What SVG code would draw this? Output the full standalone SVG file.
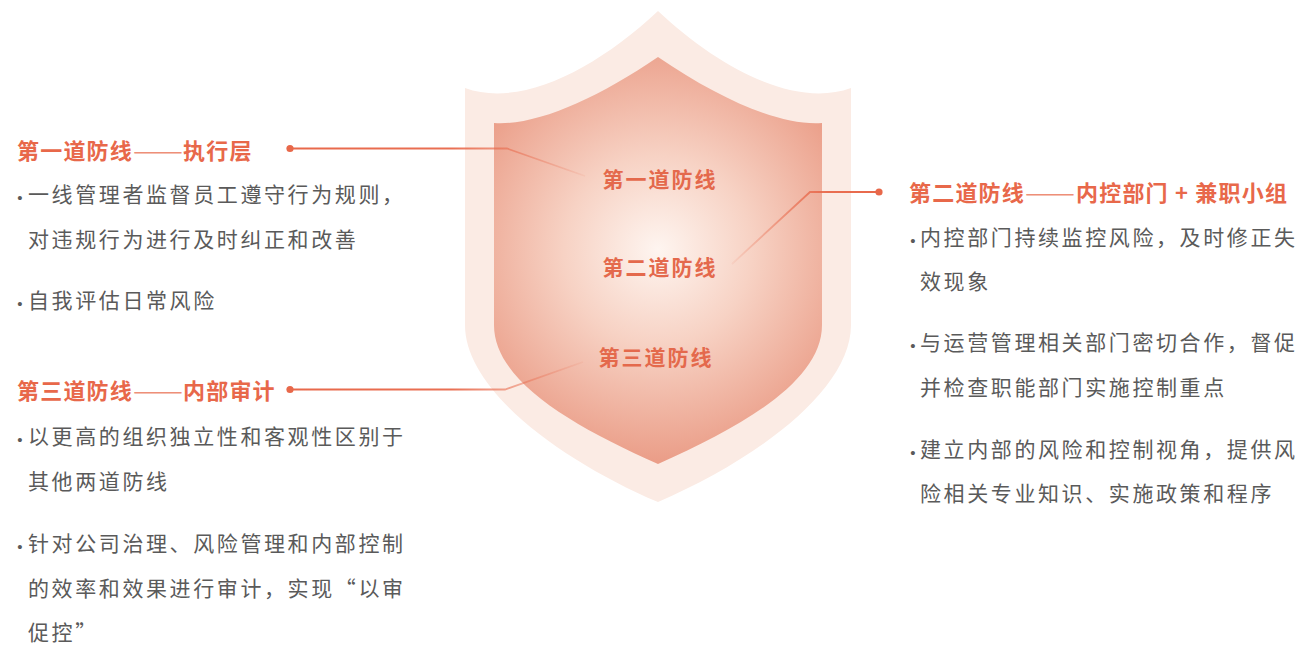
<svg xmlns="http://www.w3.org/2000/svg" width="1307" height="646" viewBox="0 0 1307 646">
<defs>
<radialGradient id="shieldFill" gradientUnits="userSpaceOnUse" cx="658" cy="250" r="235">
<stop offset="0" stop-color="#FEF5F0"/>
<stop offset="0.4" stop-color="#F7D2C4"/>
<stop offset="1" stop-color="#E8937C"/>
</radialGradient>
<linearGradient id="c1" gradientUnits="userSpaceOnUse" x1="290" y1="0" x2="585" y2="0">
<stop offset="0" stop-color="#E8684A" stop-opacity="1"/>
<stop offset="0.55" stop-color="#E8684A" stop-opacity="0.95"/>
<stop offset="1" stop-color="#E8684A" stop-opacity="0.08"/>
</linearGradient>
<linearGradient id="c2" gradientUnits="userSpaceOnUse" x1="879" y1="0" x2="732" y2="0">
<stop offset="0" stop-color="#E8684A" stop-opacity="1"/>
<stop offset="0.35" stop-color="#E8684A" stop-opacity="0.95"/>
<stop offset="1" stop-color="#E8684A" stop-opacity="0.08"/>
</linearGradient>
<linearGradient id="c3" gradientUnits="userSpaceOnUse" x1="290" y1="0" x2="583" y2="0">
<stop offset="0" stop-color="#E8684A" stop-opacity="1"/>
<stop offset="0.55" stop-color="#E8684A" stop-opacity="0.95"/>
<stop offset="1" stop-color="#E8684A" stop-opacity="0.08"/>
</linearGradient>
</defs>
<style>
text { font-family: "Noto Sans CJK SC", "Noto Sans", sans-serif; dominant-baseline: central; }
.title { font-size: 22px; font-weight: bold; fill: #E8684A; letter-spacing: 1.2px; }
.dash { font-weight: normal; fill: #EE8F78; letter-spacing: 0; }
.body { font-size: 21px; fill: #5A5A5A; letter-spacing: 2.6px; }
.bul { font-family: "Liberation Sans", sans-serif; font-size: 15px; fill: #5A5A5A; text-anchor: middle; }
.lbl { font-size: 21px; font-weight: bold; fill: #E4694C; letter-spacing: 2px; text-anchor: middle; }
.conn { fill: none; stroke-width: 1.8; }
.dot { fill: #E8684A; }
</style>

<g id="shield">
<path d="M465,88 C520,108 595,70 658,11 C721,70 796,108 851,88 L851,325 C851,390 756,460 658,502 C560,460 465,390 465,325 Z" fill="#FBEBE4"/>
<path d="M494,123 C535,126 595,100 658,57 C721,100 781,126 822,123 L822,325 C822,380 746,425 658,464 C570,425 494,380 494,325 Z" fill="url(#shieldFill)"/>
</g>

<g id="shield-labels">
<g id="label-1"><text class="lbl" x="660" y="178">第一道防线</text></g>
<g id="label-2"><text class="lbl" x="660" y="266">第二道防线</text></g>
<g id="label-3"><text class="lbl" x="656" y="356">第三道防线</text></g>
</g>

<g id="connectors">
<path class="conn" stroke="url(#c1)" d="M290,148.5 L507,148.5 L585,176"/>
<circle class="dot" cx="290" cy="148.5" r="3.6"/>
<path class="conn" stroke="url(#c2)" d="M879,192 L810,192 L732,264"/>
<circle class="dot" cx="879" cy="192" r="3.6"/>
<path class="conn" stroke="url(#c3)" d="M290,389.5 L505,389.5 L583,362"/>
<circle class="dot" cx="290" cy="389.5" r="3.6"/>
</g>

<g id="first-line">
<text class="title" x="17" y="149">第一道防线<tspan class="dash" x="133" textLength="50" lengthAdjust="spacingAndGlyphs">——</tspan><tspan x="183">执行层</tspan></text>
<text class="bul" x="20" y="197">•</text>
<text class="body" x="28" y="193">一线管理者监督员工遵守行为规则，</text>
<text class="body" x="28" y="238">对违规行为进行及时纠正和改善</text>
<text class="bul" x="20" y="303">•</text>
<text class="body" x="28" y="299">自我评估日常风险</text>
</g>

<g id="second-line">
<text class="title" x="909" y="191">第二道防线<tspan class="dash" x="1025" textLength="50" lengthAdjust="spacingAndGlyphs">——</tspan><tspan x="1076">内控部门 + 兼职小组</tspan></text>
<text class="bul" x="913" y="240">•</text>
<text class="body" x="920" y="236">内控部门持续监控风险，及时修正失</text>
<text class="body" x="920" y="280">效现象</text>
<text class="bul" x="913" y="345">•</text>
<text class="body" x="920" y="341">与运营管理相关部门密切合作，督促</text>
<text class="body" x="920" y="386">并检查职能部门实施控制重点</text>
<text class="bul" x="913" y="452">•</text>
<text class="body" x="920" y="448">建立内部的风险和控制视角，提供风</text>
<text class="body" x="920" y="492">险相关专业知识、实施政策和程序</text>
</g>

<g id="third-line">
<text class="title" x="17" y="389">第三道防线<tspan class="dash" x="133" textLength="50" lengthAdjust="spacingAndGlyphs">——</tspan><tspan x="183">内部审计</tspan></text>
<text class="bul" x="20" y="439">•</text>
<text class="body" x="28" y="435">以更高的组织独立性和客观性区别于</text>
<text class="body" x="28" y="480">其他两道防线</text>
<text class="bul" x="20" y="546">•</text>
<text class="body" x="28" y="542">针对公司治理、风险管理和内部控制</text>
<text class="body" x="28" y="587">的效率和效果进行审计，实现“以审</text>
<text class="body" x="28" y="631">促控”</text>
</g>
</svg>
